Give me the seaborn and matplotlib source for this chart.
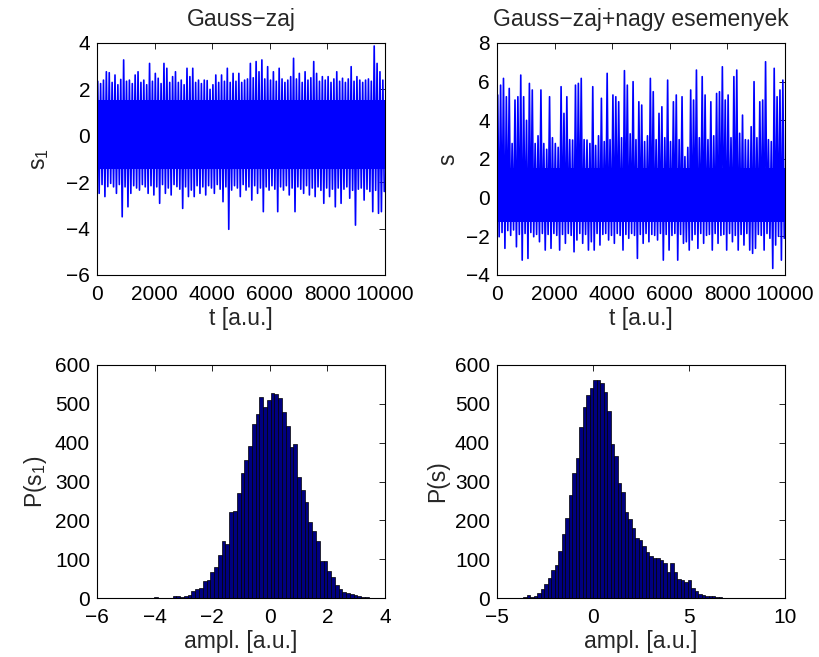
import numpy as np
import pandas as pd
import matplotlib
matplotlib.use("Agg")
import matplotlib.pyplot as plt
import seaborn as sns

# ---------------- data ----------------
# time series: peak envelopes read at 100 consecutive windows of 100 samples
gauss_upper = [2.35, 2.25, 2.40, 2.76, 2.72, 2.30, 2.62, 2.20, 2.43, 3.27,
               2.35, 2.40, 2.25, 2.62, 2.76, 2.30, 2.40, 2.20, 3.12, 2.35,
               2.69, 2.48, 2.25, 3.12, 2.91, 2.30, 2.55, 2.76, 2.30, 2.40,
               2.20, 2.91, 2.55, 2.91, 2.30, 2.40, 2.25, 2.40, 2.38, 2.00,
               2.20, 2.62, 2.30, 2.62, 2.35, 2.91, 2.30, 2.69, 2.35, 2.69,
               2.30, 2.40, 2.45, 3.12, 2.50, 3.20, 2.76, 3.27, 2.45, 2.98,
               2.40, 2.76, 2.35, 2.91, 2.45, 2.30, 2.40, 2.55, 3.34, 2.45,
               2.69, 2.30, 2.76, 2.40, 2.50, 3.20, 2.69, 2.35, 2.55, 2.40,
               2.55, 2.30, 2.45, 2.76, 2.35, 2.48, 2.30, 2.45, 2.98, 2.35,
               2.55, 2.40, 2.30, 2.40, 2.45, 2.35, 3.87, 3.12, 2.76, 2.40]
gauss_lower = [-2.48, -2.10, -2.62, -2.19, -2.05, -2.20, -2.48, -2.10, -3.49, -2.20,
               -3.06, -2.48, -2.15, -2.25, -2.34, -2.10, -2.20, -2.48, -2.15, -2.55,
               -2.20, -2.91, -2.10, -2.48, -2.25, -2.55, -2.10, -2.19, -2.30, -3.13,
               -2.20, -2.62, -2.34, -2.62, -2.15, -2.48, -2.20, -2.55, -2.15, -2.25,
               -2.48, -2.10, -2.30, -2.84, -2.20, -4.03, -2.34, -2.15, -2.25, -2.62,
               -2.10, -2.34, -2.20, -2.77, -2.15, -2.48, -2.25, -3.27, -2.20, -2.34,
               -2.15, -2.30, -3.27, -2.20, -2.34, -2.15, -2.55, -2.25, -3.27, -2.20,
               -2.30, -2.48, -2.15, -2.55, -2.25, -2.62, -2.20, -2.35, -2.91, -2.25,
               -2.62, -2.30, -3.06, -2.25, -2.91, -2.30, -2.20, -2.69, -2.35, -3.85,
               -2.30, -2.25, -2.77, -2.30, -2.40, -3.27, -2.35, -3.34, -3.27, -2.40]
events_upper = [5.31, 5.82, 6.17, 5.22, 5.65, 2.80, 5.05, 5.22, 6.34, 5.22,
                4.00, 5.91, 5.57, 2.80, 3.20, 5.57, 2.80, 2.50, 5.22, 3.10,
                2.80, 2.60, 5.74, 4.36, 5.22, 3.00, 2.98, 5.82, 5.91, 6.17,
                3.00, 2.98, 2.80, 5.74, 2.70, 3.20, 5.14, 2.90, 6.43, 3.00,
                5.31, 5.22, 4.96, 3.10, 6.57, 5.82, 3.30, 6.00, 3.00, 4.96,
                4.79, 2.90, 3.20, 6.17, 5.48, 3.00, 4.36, 4.70, 3.10, 6.08,
                2.90, 4.96, 5.31, 3.00, 5.22, 2.12, 2.60, 5.57, 5.05, 6.60,
                3.10, 6.26, 5.31, 3.00, 4.96, 3.20, 5.39, 5.48, 6.77, 5.05,
                5.31, 3.10, 6.26, 6.60, 3.33, 4.27, 3.00, 2.98, 3.67, 6.00,
                3.10, 4.96, 5.05, 7.03, 3.00, 2.90, 6.69, 5.22, 5.57, 6.08]
events_lower = [-2.02, -1.80, -2.62, -1.70, -1.95, -1.67, -2.54, -1.90, -3.23, -1.85,
                -3.14, -1.80, -2.02, -1.90, -2.28, -1.85, -2.71, -1.90, -2.62, -1.85,
                -1.95, -2.71, -1.90, -2.36, -1.85, -1.95, -2.80, -2.19, -1.85, -2.36,
                -1.90, -2.71, -2.28, -2.71, -1.85, -2.45, -1.90, -1.85, -2.19, -1.95,
                -2.36, -1.85, -1.95, -2.71, -1.90, -2.10, -1.85, -1.95, -3.14, -1.90,
                -2.36, -1.85, -2.28, -1.90, -1.95, -2.19, -1.85, -3.23, -1.90, -2.71,
                -1.95, -1.85, -3.23, -1.90, -2.36, -2.28, -2.71, -2.19, -1.90, -2.62,
                -1.85, -2.36, -1.95, -1.90, -2.71, -1.85, -2.36, -1.95, -1.90, -2.71,
                -1.85, -2.28, -1.95, -2.71, -1.90, -2.45, -1.85, -2.71, -2.88, -2.62,
                -1.90, -1.95, -2.71, -1.85, -2.10, -3.66, -2.45, -2.00, -3.23, -2.10]
window_len = 100
# limits of the solid (fully overdrawn) core of each trace
gauss_core = (-1.45, 1.55)
events_core = (-1.25, 1.55)

# histograms: 60 bins each
gauss_counts = [2, 1, 1, 1, 0, 4, 4, 2, 4, 9,
                17, 23, 26, 45, 46, 67, 79, 112, 148, 139,
                221, 223, 270, 322, 356, 391, 448, 475, 518, 492,
                510, 529, 525, 514, 478, 444, 389, 397, 311, 277,
                248, 196, 172, 146, 95, 94, 69, 54, 33, 22,
                16, 14, 10, 7, 5, 3, 2, 1, 1, 1]
gauss_range = (-4.03, 3.83)
events_counts = [2, 7, 2, 4, 14, 22, 35, 51, 72, 86,
                 120, 165, 206, 265, 322, 360, 441, 493, 523, 542,
                 562, 562, 553, 530, 482, 396, 366, 295, 272, 222,
                 203, 179, 155, 149, 135, 118, 109, 104, 102, 97,
                 91, 68, 89, 68, 49, 47, 42, 47, 25, 18,
                 11, 8, 6, 4, 4, 3, 2, 1, 1, 1]
events_range = (-3.63, 7.29)

titles = ["Gauss\u2212zaj", "Gauss\u2212zaj+nagy esemenyek"]
top_ylabels = [r"$\mathregular{s_1}$", "s"]
bottom_ylabels = [r"$\mathregular{P(s_1)}$", "P(s)"]
time_label = "t [a.u.]"
ampl_label = "ampl. [a.u.]"

# ---------------- style ----------------
sns.set_style("white")
plt.rcParams["font.family"] = ["Liberation Sans", "DejaVu Sans"]
plt.rcParams["mathtext.fontset"] = "custom"
plt.rcParams["mathtext.rm"] = "Liberation Sans"
plt.rcParams["mathtext.it"] = "Liberation Sans:italic"
plt.rcParams["axes.unicode_minus"] = True
FS_TICK = 15
FS_LAB = 16.5
BLUE = "#0000ff"

fig = plt.figure(figsize=(8.19, 6.57), dpi=100)
W, H = 819, 657


def add_ax(x0, y0, x1, y1):
    return fig.add_axes([x0 / W, 1 - y1 / H, (x1 - x0) / W, (y1 - y0) / H])


ax_tl = add_ax(97, 43, 385, 275)
ax_tr = add_ax(497, 43, 785, 275)
ax_bl = add_ax(97, 365, 385, 598)
ax_br = add_ax(497, 365, 785, 598)


def series_frame(upper, lower):
    t, s = [], []
    for i, (u, l) in enumerate(zip(upper, lower)):
        t += [i * window_len + 0.25 * window_len, i * window_len + 0.75 * window_len]
        s += [u, l]
    return pd.DataFrame({"t": t, "s": s})


for ax, up, lo, core, title, ylab, ylim, yt, lx in [
    (ax_tl, gauss_upper, gauss_lower, gauss_core, titles[0], top_ylabels[0],
     (-6, 4), np.arange(-6, 5, 2), -0.16),
    (ax_tr, events_upper, events_lower, events_core, titles[1], top_ylabels[1],
     (-4, 8), np.arange(-4, 9, 2), -0.13),
]:
    df = series_frame(up, lo)
    ax.fill_between([0, len(up) * window_len], core[0], core[1], color=BLUE, lw=0)
    sns.lineplot(data=df, x="t", y="s", ax=ax, color=BLUE, linewidth=1.2,
                 estimator=None, sort=False)
    ax.set_xlim(0, 10000)
    ax.set_ylim(*ylim)
    ax.set_xticks([0, 2000, 4000, 6000, 8000, 10000])
    ax.set_yticks(yt)
    ax.set_title(title, fontsize=FS_LAB, pad=12)
    ax.set_xlabel(time_label, fontsize=FS_LAB, labelpad=2)
    ax.set_ylabel(ylab, fontsize=FS_LAB)
    ax.yaxis.set_label_coords(lx, 0.5)

for ax, counts, rng, ylab, xlim, xt, lx in [
    (ax_bl, gauss_counts, gauss_range, bottom_ylabels[0], (-6, 4), np.arange(-6, 5, 2), -0.165),
    (ax_br, events_counts, events_range, bottom_ylabels[1], (-5, 10), [-5, 0, 5, 10], -0.165),
]:
    edges = np.linspace(rng[0], rng[1], len(counts) + 1)
    centers = 0.5 * (edges[:-1] + edges[1:])
    hdf = pd.DataFrame({"ampl": centers, "count": np.asarray(counts, dtype=float)})
    sns.histplot(data=hdf, x="ampl", weights="count", bins=len(counts),
                 binrange=rng, ax=ax, color="#000080", edgecolor="black",
                 linewidth=0.5, alpha=1.0)
    ax.set_xlim(*xlim)
    ax.set_ylim(0, 600)
    ax.set_xticks(xt)
    ax.set_yticks(np.arange(0, 601, 100))
    ax.set_xlabel(ampl_label, fontsize=FS_LAB, labelpad=2)
    ax.set_ylabel(ylab, fontsize=FS_LAB)
    ax.yaxis.set_label_coords(lx, 0.5)

for ax in [ax_tl, ax_tr, ax_bl, ax_br]:
    ax.tick_params(direction="in", top=True, right=True, length=4, width=0.6,
                   labelsize=FS_TICK, colors="black")
    ax.tick_params(axis="x", pad=7.5)
    ax.tick_params(axis="y", pad=5)
    for sp in ax.spines.values():
        sp.set_visible(True)
        sp.set_color("black")
        sp.set_linewidth(0.8)

fig.savefig("out.png", dpi=100, facecolor="white")
